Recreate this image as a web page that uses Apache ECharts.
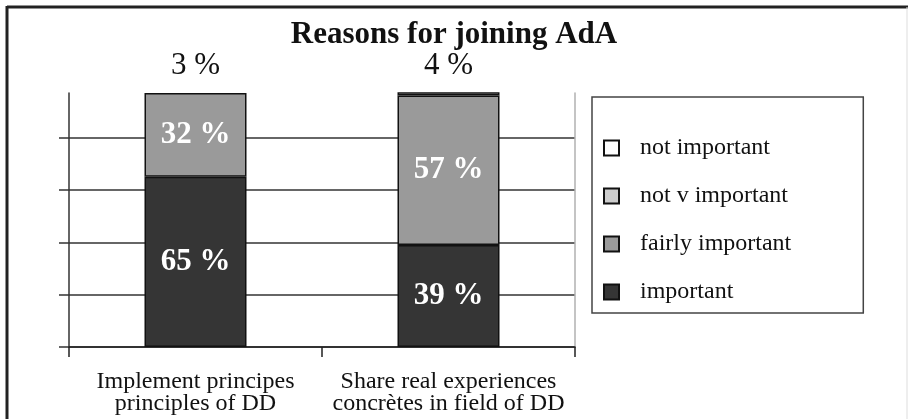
<!DOCTYPE html>
<html>
<head>
<meta charset="utf-8">
<script src="https://cdn.jsdelivr.net/npm/echarts@6/dist/echarts.min.js"></script>
<style>
html,body{margin:0;padding:0;background:#fff;}
#chart{width:908px;height:419px;}
</style>
</head>
<body>
<div id="chart"></div>
<script>
// ---- data ----
const titleText = 'Reasons for joining AdA';
const categories = ['Implement principes\nprinciples of DD', 'Share real experiences\nconcrètes in field of DD'];
const important = [65, 39];
const fairlyImportant = [32, 57];
const notVeryImportant = [3, 4];
const notImportant = [0, 0];
const seriesNames = ['important', 'fairly important', 'not v important', 'not important'];
const legendOrder = ['not important', 'not v important', 'fairly important', 'important'];
const yMax = 97;
const yTicks = [0, 20, 40, 60, 80];
const topLabels = notVeryImportant.map(v => v + ' %');

const serif = "'Liberation Serif', 'DejaVu Serif', serif";
const chart = echarts.init(document.getElementById('chart'));

const barLabel = {
  show: true,
  position: 'inside',
  formatter: p => p.value + ' %',
  color: '#fff',
  fontFamily: serif,
  fontWeight: 'bold',
  fontSize: 31
};

function bar(name, data, color, label) {
  return {
    name: name,
    type: 'bar',
    stack: 'total',
    data: data,
    barWidth: 102,
    clip: true,
    itemStyle: { color: color, borderColor: '#111', borderWidth: 1.5 },
    label: label || { show: false },
    emphasis: { disabled: true }
  };
}

chart.setOption({
  animation: false,
  backgroundColor: '#fff',
  title: {
    text: titleText,
    left: 'center',
    top: 14,
    textStyle: { fontFamily: serif, fontSize: 31, fontWeight: 'bold', color: '#111' }
  },
  legend: {
    orient: 'vertical',
    left: 592,
    top: 97,
    data: legendOrder,
    icon: 'rect',
    itemWidth: 15,
    itemHeight: 15,
    itemGap: 24,
    padding: [39, 72, 9, 11],
    borderColor: '#444',
    borderWidth: 1.5,
    textStyle: { fontFamily: serif, fontSize: 24, color: '#111', lineHeight: 24, padding: [0, 0, 0, 16] }
  },
  grid: { left: 69, right: 333, top: 93, bottom: 72, containLabel: false },
  xAxis: [
    {
      type: 'category',
      data: categories,
      position: 'bottom',
      axisLine: { show: true, lineStyle: { color: '#222', width: 1.5 } },
      axisTick: { show: true, length: 10, lineStyle: { color: '#222', width: 1.5 } },
      axisLabel: { interval: 0, margin: 24, fontFamily: serif, fontSize: 24, lineHeight: 22, color: '#111' }
    },
    {
      type: 'category',
      data: topLabels,
      position: 'top',
      axisLine: { show: false },
      axisTick: { show: false },
      axisLabel: { interval: 0, margin: 12, fontFamily: serif, fontSize: 31, color: '#111' }
    }
  ],
  yAxis: [
    {
      type: 'value',
      min: 0,
      max: yMax,
      interval: 20,
      axisLine: { show: true, lineStyle: { color: '#333', width: 1.5 } },
      axisTick: { show: true, length: 10, customValues: yTicks, lineStyle: { color: '#333', width: 1.5 } },
      axisLabel: { show: false },
      splitLine: { show: true, lineStyle: { color: '#333', width: 1.5 } }
    },
    {
      type: 'value',
      position: 'right',
      min: 0,
      max: yMax,
      axisLine: { show: true, lineStyle: { color: '#b0b0b0', width: 1.5 } },
      axisTick: { show: false },
      axisLabel: { show: false },
      splitLine: { show: false }
    }
  ],
  series: [
    bar(seriesNames[0], important, '#353535', barLabel),
    bar(seriesNames[1], fairlyImportant, '#9a9a9a', barLabel),
    bar(seriesNames[2], notVeryImportant, '#cdcdcd'),
    bar(seriesNames[3], notImportant, '#ffffff')
  ],
  graphic: [
    { type: 'line', shape: { x1: 7, y1: 7, x2: 908, y2: 7 }, style: { stroke: '#222', lineWidth: 3 }, silent: true },
    { type: 'line', shape: { x1: 7, y1: 6, x2: 7, y2: 419 }, style: { stroke: '#222', lineWidth: 3 }, silent: true },
    { type: 'line', shape: { x1: 907, y1: 7, x2: 907, y2: 419 }, style: { stroke: '#ddd', lineWidth: 1 }, silent: true }
  ]
});
</script>
</body>
</html>
